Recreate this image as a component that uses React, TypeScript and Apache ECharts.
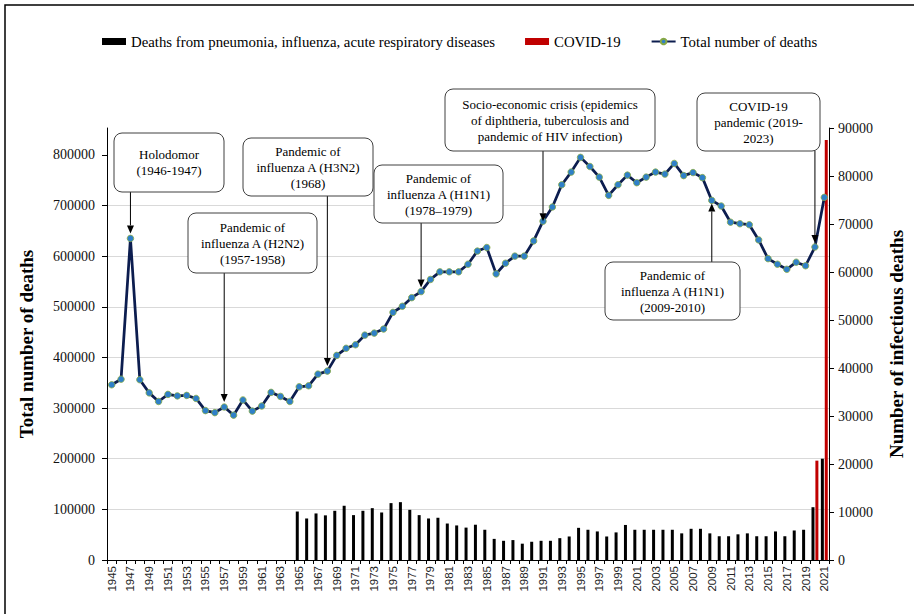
import React, { useEffect, useRef } from "react";
import * as echarts from "echarts";

const years = [
  "1945","1946","1947","1948","1949","1950","1951","1952","1953","1954",
  "1955","1956","1957","1958","1959","1960","1961","1962","1963","1964",
  "1965","1966","1967","1968","1969","1970","1971","1972","1973","1974",
  "1975","1976","1977","1978","1979","1980","1981","1982","1983","1984",
  "1985","1986","1987","1988","1989","1990","1991","1992","1993","1994",
  "1995","1996","1997","1998","1999","2000","2001","2002","2003","2004",
  "2005","2006","2007","2008","2009","2010","2011","2012","2013","2014",
  "2015","2016","2017","2018","2019","2020","2021",
];

const totalDeaths = [
  346000, 357000, 635000, 356000, 330000, 313000, 327000, 324000, 325000, 319000,
  295000, 291000, 302000, 286000, 316000, 294000, 304000, 331000, 323000, 313000,
  342000, 344000, 367000, 373000, 404000, 418000, 425000, 444000, 448000, 456000,
  489000, 501000, 518000, 530000, 554000, 569000, 569000, 569000, 584000, 610000,
  617000, 565000, 586000, 600000, 600000, 630000, 669000, 697000, 741000, 766000,
  795000, 777000, 756000, 720000, 741000, 760000, 745000, 756000, 766000, 762000,
  783000, 759000, 765000, 755000, 710000, 699000, 667000, 664000, 662000, 632000,
  595000, 584000, 574000, 588000, 581000, 618000, 716000,
];

const respiratoryDeaths = [
  null, null, null, null, null, null, null, null, null, null,
  null, null, null, null, null, null, null, null, null, null,
  10100, 8650, 9700, 9300, 10250, 11300, 9350, 10250, 10800, 9900,
  11850, 12050, 10450, 9350, 8650, 8800, 7600, 7200, 6750, 7350,
  6300, 4400, 4000, 4150, 3400, 3800, 4000, 4000, 4550, 4900,
  6700, 6300, 5950, 4900, 5750, 7300, 6300, 6300, 6300, 6300,
  6300, 5550, 6500, 6500, 5550, 4950, 4950, 5350, 5550, 4950,
  4950, 5950, 4950, 6150, 6300, 11000, 21100,
];

const covidDeaths = [
  null, null, null, null, null, null, null, null, null, null,
  null, null, null, null, null, null, null, null, null, null,
  null, null, null, null, null, null, null, null, null, null,
  null, null, null, null, null, null, null, null, null, null,
  null, null, null, null, null, null, null, null, null, null,
  null, null, null, null, null, null, null, null, null, null,
  null, null, null, null, null, null, null, null, null, null,
  null, null, null, null, null, 20700, 87500,
];

const leftTicks = [0, 100000, 200000, 300000, 400000, 500000, 600000, 700000, 800000];

const SERIES_RESP = "Deaths from pneumonia, influenza, acute respiratory diseases";
const SERIES_COVID = "COVID-19";
const SERIES_TOTAL = "Total number of deaths";

const annotations = [
  { lines: ["Holodomor", "(1946-1947)"], box: [114, 133, 110, 59], year: "1947", dir: "down", gap: 5 },
  { lines: ["Pandemic of", "influenza A (H2N2)", "(1957-1958)"], box: [188, 213, 129, 60], year: "1957", dir: "down", gap: 5 },
  { lines: ["Pandemic of", "influenza A (H3N2)", "(1968)"], box: [243, 138, 130, 58], year: "1968", dir: "down", gap: 5 },
  { lines: ["Pandemic of", "influenza A (H1N1)", "(1978\u20131979)"], box: [374, 165, 129, 58], year: "1978", dir: "down", gap: 4 },
  { lines: ["Socio-economic crisis (epidemics", "of diphtheria, tuberculosis and", "pandemic of HIV infection)"], box: [445, 89, 210, 62], year: "1991", dir: "down", gap: 0 },
  { lines: ["COVID-19", "pandemic (2019-", "2023)"], box: [697, 93, 123, 58], year: "2020", dir: "down", gap: 4 },
  { lines: ["Pandemic of", "influenza A (H1N1)", "(2009-2010)"], box: [605, 262, 135, 58], year: "2009", dir: "up", gap: 3 },
];

const SERIF = '"Liberation Serif", "Times New Roman", serif';
const SANS = '"Liberation Sans", Arial, sans-serif';

function arrowEls(x1: number, y1: number, x2: number, y2: number) {
  const ang = Math.atan2(y2 - y1, x2 - x1);
  const L = 8;
  const W = 3.5;
  const bx = x2 - L * Math.cos(ang);
  const by = y2 - L * Math.sin(ang);
  const px = -Math.sin(ang) * W;
  const py = Math.cos(ang) * W;
  return [
    { type: "line", silent: true, z: 100, shape: { x1, y1, x2: bx, y2: by }, style: { stroke: "#000", lineWidth: 1 } },
    { type: "polygon", silent: true, z: 100, shape: { points: [[x2, y2], [bx + px, by + py], [bx - px, by - py]] }, style: { fill: "#000" } },
  ];
}

export default function App() {
  const ref = useRef<HTMLDivElement>(null);
  useEffect(() => {
    document.body.style.margin = "0";
    if (!ref.current) return;
    const chart = echarts.init(ref.current, undefined, { renderer: "svg" });
    const option: any = {
      animation: false,
      backgroundColor: "#fff",
      legend: {
        left: 97,
        top: 29,
        itemGap: 30,
        itemWidth: 24,
        itemHeight: 7,
        textStyle: { fontFamily: SERIF, fontSize: 14.8, color: "#000" },
        data: [
          { name: SERIES_RESP, icon: "rect" },
          { name: SERIES_COVID, icon: "rect" },
          { name: SERIES_TOTAL },
        ],
      },
      grid: { left: 107, right: 81, top: 128, bottom: 54, containLabel: false },
      xAxis: {
        type: "category",
        data: years,
        boundaryGap: true,
        axisLine: { lineStyle: { color: "#000", width: 1 } },
        axisTick: { show: true, interval: 0, length: 4, lineStyle: { color: "#000" } },
        axisLabel: { interval: 1, rotate: 90, fontFamily: SANS, fontSize: 11.5, color: "#222", margin: 6 },
        splitLine: { show: false },
      },
      yAxis: [
        {
          type: "value",
          position: "left",
          min: 0,
          max: 853000,
          interval: 100000,
          name: SERIES_TOTAL,
          nameLocation: "middle",
          nameGap: 71,
          nameRotate: 90,
          nameTextStyle: { fontFamily: SERIF, fontWeight: "bold", fontSize: 19, color: "#000" },
          axisLine: { show: true, lineStyle: { color: "#000" } },
          axisTick: { show: true, length: 5, lineStyle: { color: "#000" }, customValues: leftTicks },
          axisLabel: {
            fontFamily: SERIF,
            fontSize: 14,
            color: "#111",
            margin: 12,
            customValues: leftTicks,
            formatter: (v: number) => (v % 100000 === 0 ? String(v) : ""),
          },
          splitLine: { show: true, showMaxLine: false, lineStyle: { color: "#d9d9d9", width: 1 } },
        },
        {
          type: "value",
          position: "right",
          min: 0,
          max: 90000,
          interval: 10000,
          name: "Number of infectious deaths",
          nameLocation: "middle",
          nameGap: 58,
          nameRotate: 90,
          nameTextStyle: { fontFamily: SERIF, fontWeight: "bold", fontSize: 19, color: "#000" },
          axisLine: { show: true, lineStyle: { color: "#000" } },
          axisTick: { show: true, length: 5, lineStyle: { color: "#000" } },
          axisLabel: {
            fontFamily: SERIF,
            fontSize: 14,
            color: "#111",
            margin: 9,
            formatter: (v: number) => String(v),
          },
          splitLine: { show: false },
        },
      ],
      series: [
        {
          name: SERIES_RESP,
          type: "bar",
          yAxisIndex: 1,
          data: respiratoryDeaths,
          barWidth: 3,
          barGap: "30%",
          itemStyle: { color: "#000" },
        },
        {
          name: SERIES_COVID,
          type: "bar",
          yAxisIndex: 1,
          data: covidDeaths,
          barWidth: 3,
          barGap: "30%",
          itemStyle: { color: "#c00000" },
        },
        {
          name: SERIES_TOTAL,
          type: "line",
          yAxisIndex: 0,
          data: totalDeaths,
          symbol: "circle",
          symbolSize: 6.5,
          showAllSymbol: true,
          lineStyle: { color: "#0c1d4f", width: 2.75 },
          itemStyle: { color: "#2f80c8", borderColor: "#86a845", borderWidth: 0.8 },
          z: 5,
        },
      ],
    };
    chart.setOption(option);

    const graphics: any[] = [
      {
        type: "rect",
        silent: true,
        z: 0,
        shape: { x: 5, y: 5, width: 1200, height: 1200 },
        style: { fill: "none", stroke: "#000", lineWidth: 1.5 },
      },
    ];
    annotations.forEach((a) => {
      const idx = years.indexOf(a.year);
      const p = chart.convertToPixel({ xAxisIndex: 0, yAxisIndex: 0 }, [idx, totalDeaths[idx]]) as number[];
      const [bx, by, bw, bh] = a.box;
      if (a.dir === "down") {
        graphics.push(...arrowEls(p[0], by + bh, p[0], p[1] - a.gap));
      } else {
        graphics.push(...arrowEls(p[0], by, p[0], p[1] + a.gap));
      }
      graphics.push({
        type: "rect",
        silent: true,
        z: 101,
        shape: { x: bx, y: by, width: bw, height: bh, r: 8 },
        style: { fill: "#fff", stroke: "#404040", lineWidth: 1 },
      });
      graphics.push({
        type: "text",
        silent: true,
        z: 102,
        x: bx + bw / 2,
        y: by + bh / 2,
        style: {
          text: a.lines.join("\n"),
          fontFamily: SERIF,
          fontSize: 13,
          lineHeight: 16,
          fill: "#000",
          align: "center",
          verticalAlign: "middle",
        },
      });
    });
    chart.setOption({ graphic: graphics });

    return () => chart.dispose();
  }, []);
  return <div ref={ref} style={{ width: 914, height: 614 }} />;
}
